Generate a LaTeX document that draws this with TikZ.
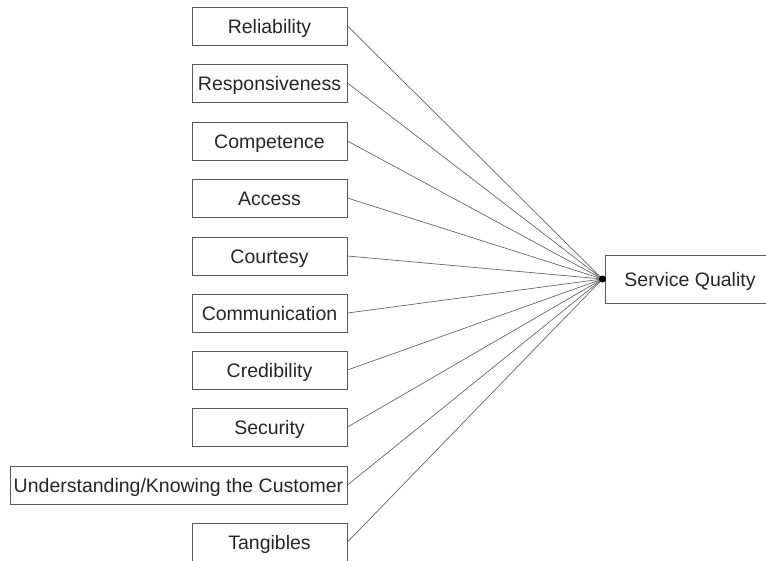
\documentclass[tikz,border=0pt]{standalone}
\usepackage{fontspec}
\setmainfont{Liberation Sans}
\begin{document}
\begin{tikzpicture}[x=1pt,y=-1pt,
  dim/.style={draw=black!65,line width=1pt,fill=white,minimum height=38pt,inner sep=0pt,
    text height=18pt,text depth=4pt,
    text=black!85,font=\fontsize{19.5}{23}\selectfont},
  conn/.style={draw=black!60,line width=0.7pt}]
\useasboundingbox (0,0) rectangle (766,560);
\begin{scope}
\clip (0,0) rectangle (766,560);
\coordinate (hub) at (602.5,279);
\foreach \n/\t/\y in {rel/Reliability/26, res/Responsiveness/83, com/Competence/141, acc/Access/198, cou/Courtesy/256, cmm/Communication/313, cre/Credibility/370, sec/Security/427, tan/Tangibles/542}{
  \node[dim,minimum width=155pt] (\n) at (269.5,\y) {\t};
}
\node[dim,minimum width=337pt] (und) at (178.5,485) {Understanding/Knowing the Customer};
\node[dim,minimum width=185pt,minimum height=48pt,anchor=west] (sq) at (605,279) {\hspace*{-16pt}Service Quality};
\foreach \n in {rel,res,com,acc,cou,cmm,cre,sec,und,tan}{
  \draw[conn] (\n.east) -- (hub);
}
\fill[black] (hub) circle (3.5pt);
\end{scope}
\end{tikzpicture}
\end{document}
